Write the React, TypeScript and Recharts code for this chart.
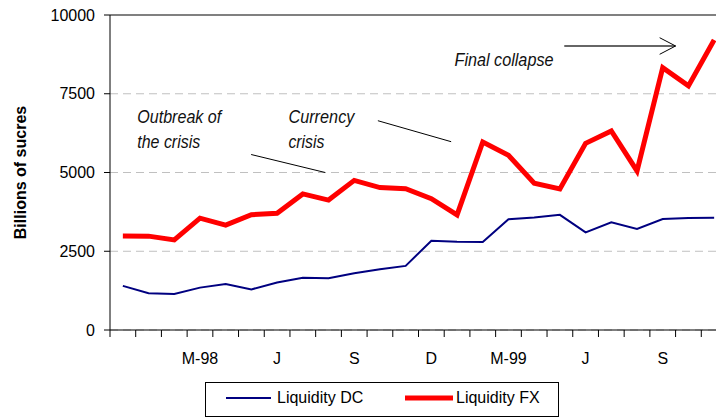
import React from 'react';
import {
  LineChart,
  Line,
  XAxis,
  YAxis,
  CartesianGrid,
  ReferenceLine,
  ReferenceDot,
  Legend,
} from 'recharts';

// Months Dec-97 .. Nov-99
const months = [
  'Dec-97', 'Jan-98', 'Feb-98', 'Mar-98', 'Apr-98', 'May-98', 'Jun-98', 'Jul-98',
  'Aug-98', 'Sep-98', 'Oct-98', 'Nov-98', 'Dec-98', 'Jan-99', 'Feb-99', 'Mar-99',
  'Apr-99', 'May-99', 'Jun-99', 'Jul-99', 'Aug-99', 'Sep-99', 'Oct-99', 'Nov-99',
];
const liquidityDC = [
  1400, 1165, 1145, 1345, 1460, 1290, 1505, 1660, 1645, 1800, 1930, 2035,
  2835, 2805, 2795, 3515, 3570, 3655, 3100, 3420, 3210, 3525, 3555, 3565,
];
const liquidityFX = [
  2985, 2980, 2860, 3550, 3330, 3660, 3705, 4320, 4125, 4750, 4520, 4485,
  4170, 3655, 5970, 5545, 4660, 4480, 5925, 6320, 5050, 8330, 7750, 9210,
];
const axisLabels = [
  '', '', '', 'M-98', '', '', 'J', '', '', 'S', '', '', 'D', '', '', 'M-99',
  '', '', 'J', '', '', 'S', '', '',
];
const yTicks = [0, 2500, 5000, 7500, 10000];
const seriesNames = ['Liquidity DC', 'Liquidity FX'];
const yAxisTitle = 'Billions of sucres';

const annotationTexts = [
  { text: 'Outbreak of', x: 1.06, y: 6562, len: 84 },
  { text: 'the crisis', x: 1.06, y: 5768, len: 63 },
  { text: 'Currency', x: 6.94, y: 6562, len: 66 },
  { text: 'crisis', x: 6.94, y: 5768, len: 36 },
  { text: 'Final collapse', x: 13.4, y: 8390, len: 99 },
];
const annotationLines = [
  { x1: 5.49, y1: 5571, x2: 8.37, y2: 5000 },
  { x1: 10.42, y1: 6644, x2: 13.27, y2: 5978 },
];
const arrowShaft = { x1: 17.67, y1: 9016, x2: 22.0, y2: 9016 };
const arrowWings = [
  { x1: 21.38, y1: 9279, x2: 22.0, y2: 9016 },
  { x1: 21.38, y1: 8752, x2: 22.0, y2: 9016 },
];

const data = months.map((m, i) => ({
  pos: i + 0.5,
  month: m,
  dc: liquidityDC[i],
  fx: liquidityFX[i],
}));

const xTicks: number[] = [];
for (let k = 0; k <= 48; k++) xTicks.push(k / 2);

const FONT = '"Liberation Sans", Arial, sans-serif';

const XTick = (props: any) => {
  const { x, y, payload } = props;
  const v = payload.value;
  if (Number.isInteger(v)) {
    return <line x1={x} x2={x} y1={y} y2={y + 7} stroke="#000" strokeWidth={1} />;
  }
  const label = axisLabels[Math.floor(v)];
  if (!label) return <g />;
  return (
    <text x={x} y={y + 23} dy="0.71em" textAnchor="middle" fontSize={16} fontFamily={FONT} fill="#000">
      {label}
    </text>
  );
};

const YTitle = (props: any) => {
  const vb = props.viewBox || { x: 0, y: 15, width: 110, height: 315 };
  const cx = vb.x + 20;
  const cy = vb.y + vb.height / 2;
  return (
    <text
      x={cx}
      y={cy}
      transform={`rotate(-90, ${cx}, ${cy})`}
      textAnchor="middle"
      dominantBaseline="central"
      fontSize={16}
      fontWeight="bold"
      fontFamily={FONT}
      fill="#000"
    >
      {yAxisTitle}
    </text>
  );
};

const AnnText = (props: any) => {
  const { viewBox, text, len } = props;
  if (!viewBox) return null;
  return (
    <text
      x={viewBox.x}
      y={viewBox.y}
      fontSize={18}
      fontStyle="italic"
      fontFamily={FONT}
      fill="#111"
      textLength={len}
      lengthAdjust="spacingAndGlyphs"
    >
      {text}
    </text>
  );
};

const LegendBox = () => (
  <svg width={354} height={35} style={{ display: 'block' }}>
    <rect x={0.5} y={0.5} width={353} height={34} fill="#fff" stroke="#000" strokeWidth={1} />
    <line x1={21} x2={66} y1={16} y2={16} stroke="#000080" strokeWidth={2} />
    <text x={72} y={21} fontSize={16} fontFamily={FONT} fill="#000">{seriesNames[0]}</text>
    <line x1={200} x2={248} y1={16} y2={16} stroke="#ff0000" strokeWidth={5} />
    <text x={251} y={21} fontSize={16} fontFamily={FONT} fill="#000">{seriesNames[1]}</text>
  </svg>
);

export default function App() {
  return (
    <div
      style={{
        position: 'absolute',
        left: 0,
        top: 0,
        width: 716,
        height: 417,
        overflow: 'hidden',
        background: '#fff',
      }}
    >
      <LineChart
        width={727}
        height={417}
        data={data}
        margin={{ top: 15, right: 0, bottom: 0, left: 0 }}
      >
        <CartesianGrid vertical={false} stroke="#c0c0c0" strokeDasharray="8 5" />
        <XAxis
          dataKey="pos"
          type="number"
          domain={[0, 24]}
          ticks={xTicks}
          interval={0}
          tickLine={false}
          tickSize={0}
          tickMargin={0}
          axisLine={{ stroke: '#000' }}
          tick={<XTick />}
          height={87}
        />
        <YAxis
          type="number"
          domain={[0, 10000]}
          ticks={yTicks}
          interval={0}
          width={110}
          tickSize={6}
          tickMargin={9}
          axisLine={{ stroke: '#000' }}
          tickLine={{ stroke: '#000' }}
          tick={{ fontSize: 16, fill: '#000', fontFamily: FONT }}
          label={<YTitle />}
        />
        <ReferenceLine y={10000} stroke="#808080" strokeWidth={2} />
        {annotationLines.map((l, i) => (
          <ReferenceLine
            key={'al' + i}
            segment={[{ x: l.x1, y: l.y1 }, { x: l.x2, y: l.y2 }]}
            stroke="#000"
            strokeWidth={1}
          />
        ))}
        <ReferenceLine
          segment={[{ x: arrowShaft.x1, y: arrowShaft.y1 }, { x: arrowShaft.x2, y: arrowShaft.y2 }]}
          stroke="#333"
          strokeWidth={1.5}
        />
        {arrowWings.map((l, i) => (
          <ReferenceLine
            key={'aw' + i}
            segment={[{ x: l.x1, y: l.y1 }, { x: l.x2, y: l.y2 }]}
            stroke="#000"
            strokeWidth={1}
          />
        ))}
        {annotationTexts.map((a, i) => (
          <ReferenceDot
            key={'at' + i}
            x={a.x}
            y={a.y}
            r={0}
            fill="none"
            stroke="none"
            label={<AnnText text={a.text} len={a.len} />}
          />
        ))}
        <Line
          type="linear"
          dataKey="dc"
          name={seriesNames[0]}
          stroke="#000080"
          strokeWidth={2}
          dot={false}
          activeDot={false}
          isAnimationActive={false}
        />
        <Line
          type="linear"
          dataKey="fx"
          name={seriesNames[1]}
          stroke="#ff0000"
          strokeWidth={5}
          dot={false}
          activeDot={false}
          isAnimationActive={false}
        />
        <Legend
          layout="horizontal"
          verticalAlign="middle"
          align="center"
          wrapperStyle={{ left: 205, top: 382, width: 354, height: 35 }}
          content={() => <LegendBox />}
        />
      </LineChart>
    </div>
  );
}
